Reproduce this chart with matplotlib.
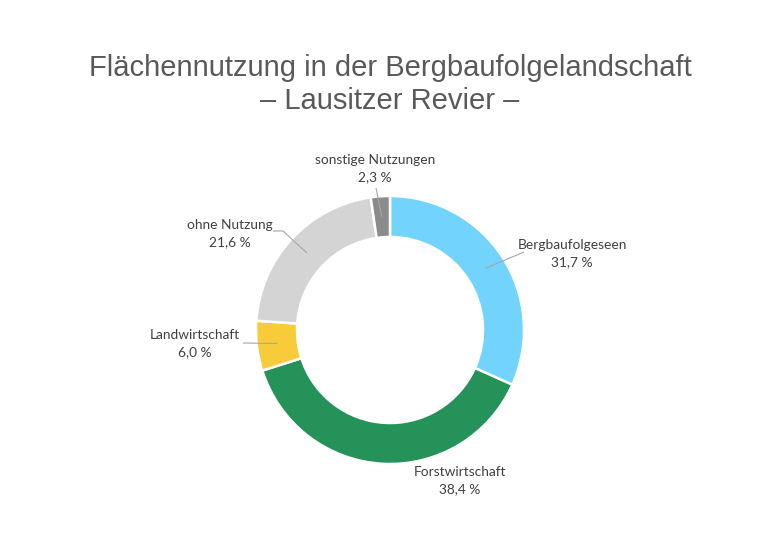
import numpy as np
import matplotlib
matplotlib.use("Agg")
import matplotlib.pyplot as plt

categories = ["Bergbaufolgeseen", "Forstwirtschaft", "Landwirtschaft", "ohne Nutzung", "sonstige Nutzungen"]
values = [31.7, 38.4, 6.0, 21.6, 2.3]
colors = ["#72D4FD", "#25925A", "#F7CB3A", "#D4D4D4", "#8B8B8B"]
title_lines = ["Flächennutzung in der Bergbaufolgelandschaft", "– Lausitzer Revier –"]

W, H = 780, 541
fig = plt.figure(figsize=(W / 100, H / 100), dpi=100)
ax = fig.add_axes([0, 0, 1, 1])

cx, cy = 390, H - 330
R = 134
width = 41

wedges, _ = ax.pie(values, colors=colors, startangle=90, counterclock=False,
                   radius=R, center=(cx, cy), frame=True,
                   wedgeprops=dict(width=width, edgecolor="white", linewidth=1.8))
ax.set_xlim(0, W)
ax.set_ylim(0, H)
ax.set_aspect("equal")
ax.axis("off")

for line, base in zip(title_lines, [76, 109]):
    fig.text(0.5, 1 - base / H, line, ha="center", va="baseline", fontsize=21,
             color="#595959", family="Liberation Sans")

# label layout (pixel positions in figure, y from top): text center x, first-line center y, leader start
label_pos = {
    "Bergbaufolgeseen": (572, 245, [(524, 252)]),
    "Forstwirtschaft": (460, 472, None),
    "Landwirtschaft": (195, 335, [(243, 343)]),
    "ohne Nutzung": (230, 225, [(273, 231), (283, 231)]),
    "sonstige Nutzungen": (375, 160, [(376, 188)]),
}

total = sum(values)
cum = 0
for cat, v in zip(categories, values):
    mid = cum + v / 2
    cum += v
    ang = np.deg2rad(90 - 360 * mid / total)
    rm = R - width / 2
    ex, ey = cx + rm * np.cos(ang), cy + rm * np.sin(ang)
    tx, ty, lead = label_pos[cat]
    pct = f"{v:.1f}".replace(".", ",") + " %"
    ax.text(tx, H - ty, cat, ha="center", va="center", fontsize=9.9,
            color="#404040", family="Lato")
    ax.text(tx, H - ty - 17.5, pct, ha="center", va="center", fontsize=9.9,
            color="#404040", family="Lato")
    if lead:
        xs = [p[0] for p in lead] + [ex]
        ys = [H - p[1] for p in lead] + [ey]
        ax.plot(xs, ys, color="#A6A6A6", lw=0.8, solid_capstyle="butt")

fig.savefig("out.png", dpi=100, facecolor="white")
